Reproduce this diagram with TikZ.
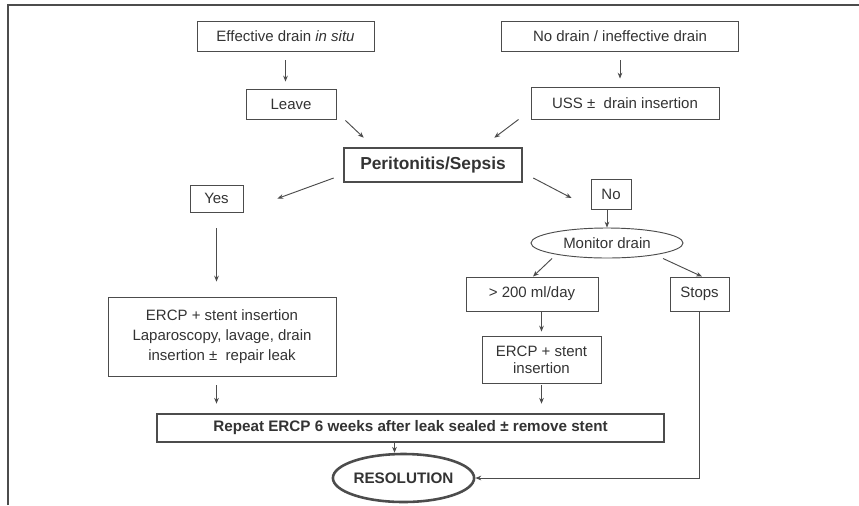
\documentclass[tikz,border=0pt]{standalone}
\usepackage{fontspec}
\setmainfont{Liberation Sans}
\usetikzlibrary{shapes,arrows.meta,positioning,calc}

\definecolor{linegray}{gray}{0.3}
\definecolor{textgray}{gray}{0.2}

\tikzset{
    box/.style={draw=linegray, line width=0.8pt, text=textgray, align=center, inner sep=0pt, font=\fontsize{12.8}{17}\selectfont},
    thickbox/.style={box, line width=2.2pt, font=\bfseries\fontsize{13}{16}\selectfont},
    oval/.style={box, ellipse},
    sz/.style 2 args={minimum width=#1*0.3mm, minimum height=#2*0.3mm},
    arr/.style={draw=linegray, line width=0.8pt, -{Stealth[length=5pt,width=4pt]}}
}

\begin{document}
\begin{tikzpicture}[x=0.3mm, y=-0.3mm]
        \useasboundingbox (0,0) rectangle (859,505);
        \draw[linegray, line width=1.5pt] (8,505) -- (8,5) -- (859,5);

        % top row
        \node[box, sz={177}{30}] (effective) at (285.5,36) {Effective drain \textit{in situ}};
        \node[box, sz={237}{30}] (nodrain) at (620,36) {No drain / ineffective drain};
        \node[box, sz={90}{30}] (leave) at (291,104) {Leave};
        \node[box, sz={188}{32}] (uss) at (625,103) {USS ±~ drain insertion};

        \node[thickbox, sz={178}{34}, font=\bfseries\fontsize{14.8}{17}\selectfont] (sepsis) at (433,165) {Peritonitis/Sepsis};
        \node[box, sz={53}{27}] (yes) at (216.5,198.5) {Yes};
        \node[box, sz={40}{30}] (no) at (611,194) {No};
        \node[oval, sz={152}{30}] (monitor) at (607,243) {Monitor drain};

        % lower part
        \node[box, sz={228}{79}] (surgery) at (222,336.5) {ERCP + stent insertion\\Laparoscopy, lavage, drain\\insertion ±~ repair leak};
        \node[box, sz={132}{34}] (highout) at (532,294) {> 200 ml/day};
        \node[box, sz={59}{34}] (stops) at (699.5,294) {Stops};
        \node[box, sz={119}{47}, font=\fontsize{12.8}{14.5}\selectfont] (stent) at (541.5,359.5) {ERCP + stent\\insertion};
        \node[thickbox, sz={507}{28}] (repeat) at (410.5,428) {Repeat ERCP 6 weeks after leak sealed ± remove stent};
        \node[thickbox, ellipse, sz={125}{48}] (resolution) at (403.5,478) {RESOLUTION};

        % arrows
        \draw[arr, shorten <=2.7mm, shorten >=2.1mm] (effective.south) -- (effective.south |- leave.north);
        \draw[arr, shorten <=2.7mm, shorten >=2.4mm] (nodrain.south) -- (nodrain.south |- uss.north);
        \draw[arr] ($(leave.south east)+(9,1)$) -- ($(sepsis.north west)+(21,-9)$);
        \draw[arr] ($(uss.south west)+(-12,0)$) -- ($(sepsis.north east)+(-29,-9)$);
        \draw[arr] ($(sepsis.west)+(-9,13)$) -- ($(yes.east)+(34,0)$);
        \draw[arr] ($(sepsis.east)+(10,13)$) -- ($(no.west)+(-19,4)$);
        \draw[arr] (no.south -| monitor.north) -- (monitor.north);
        \draw[arr, shorten <=4.8mm, shorten >=4.5mm] (yes.south) -- (yes.south |- surgery.north);
        \draw[arr, shorten <=2.7mm, shorten >=2.7mm] (yes.south |- surgery.south) -- (yes.south |- repeat.north);
        \draw[arr] ($(monitor.south)+(-55,0)$) -- ($(highout.north)+(1,0)$);
        \draw[arr] ($(monitor.south)+(56,0)$) -- ($(stops.north)+(2.5,0)$);
        \draw[arr, shorten >=1.2mm] (stent.north |- highout.south) -- (stent.north);
        \draw[arr, shorten <=0.6mm, shorten >=2.7mm] (stent.south) -- (stent.south |- repeat.north);
        \draw[arr] ([xshift=-2.7mm]resolution.north |- repeat.south) -- ([xshift=-2.7mm]resolution.north);
        \draw[arr] (stops.south) |- (resolution.east);
\end{tikzpicture}
\end{document}
